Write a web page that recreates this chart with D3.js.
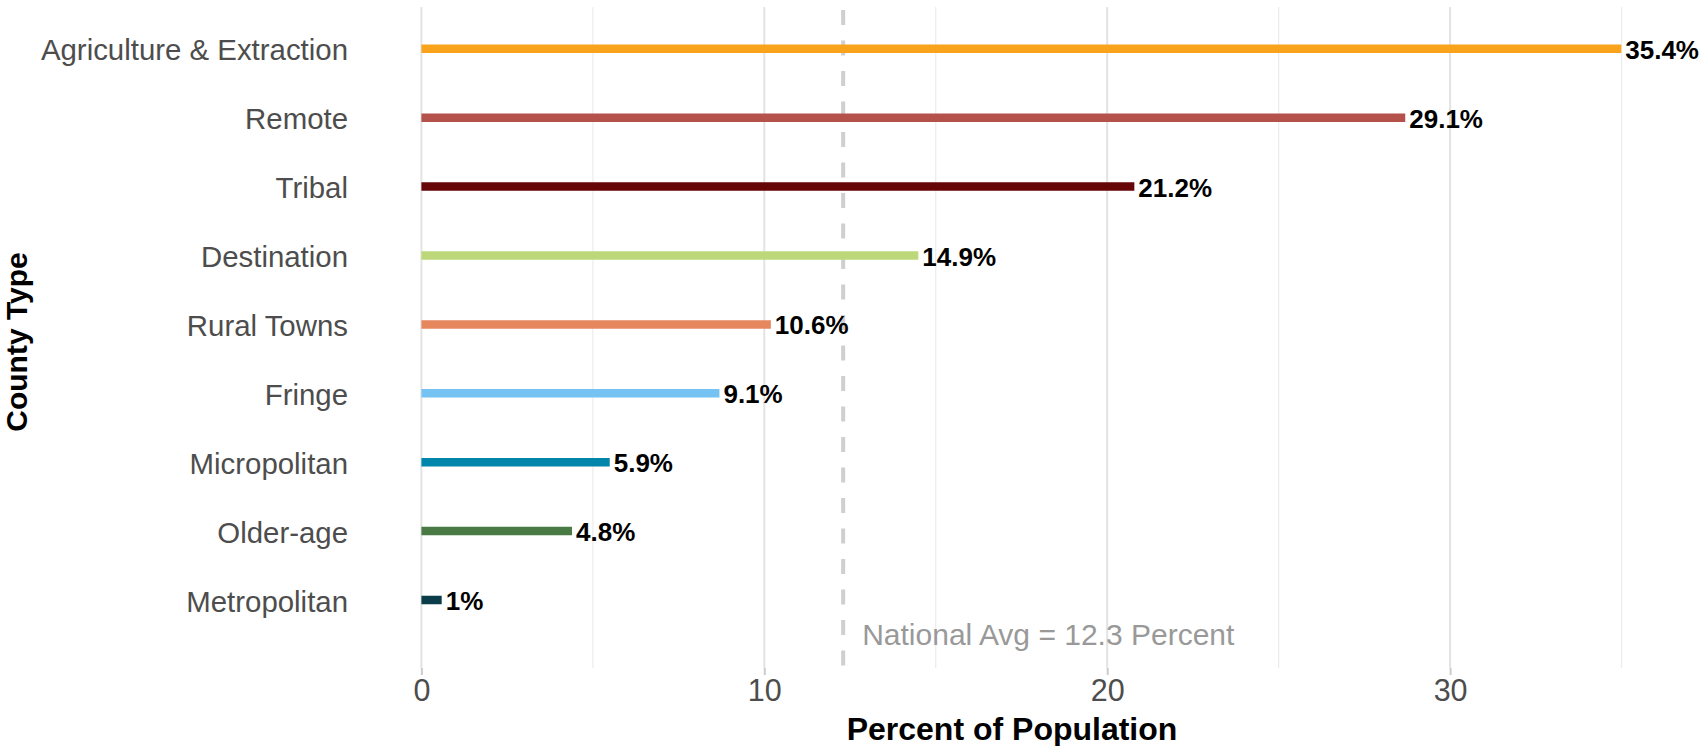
<!DOCTYPE html>
<html>
<head>
<meta charset="utf-8">
<script src="https://cdn.jsdelivr.net/npm/d3@7"></script>
<style>
  body { margin: 0; background: #fff; }
  svg { display: block; font-family: "Liberation Sans", Arial, sans-serif; }
</style>
</head>
<body>
<div id="canvas"></div>
<script>
"use strict";

/**** DATA ****/
let categories = ["Agriculture & Extraction", "Remote", "Tribal", "Destination", "Rural Towns",
                  "Fringe", "Micropolitan", "Older-age", "Metropolitan"];
let values = [35.4, 29.1, 21.2, 14.9, 10.6, 9.1, 5.9, 4.8, 1];
let barColors = ["#f9a21c", "#b4514a", "#660606", "#bdd87a", "#e6875e",
                 "#74c3f3", "#0086aa", "#4a7a44", "#0b3c4a"];
let majorTicks = [0, 10, 20, 30];
let minorTicks = [5, 15, 25, 35];
let nationalAvg = 12.3;

/**** CONFIGURATION ****/
let svgWidth = 1703;
let svgHeight = 746;
let panelTop = 7;
let panelBottom = 668;

let svg = d3.select("#canvas")
    .append("svg")
    .attr("width", svgWidth)
    .attr("height", svgHeight);

/**** SCALES ****/
let xScale = d3.scaleLinear()
    .domain([0, 30])
    .range([421.4, 1450.1]);

let yScale = d3.scalePoint()
    .domain(categories)
    .range([48.8, 600]);

/**** GRIDLINES ****/
svg.selectAll(".minor")
    .data(minorTicks)
    .join("line")
    .attr("class", "minor")
    .attr("x1", d => xScale(d))
    .attr("x2", d => xScale(d))
    .attr("y1", panelTop)
    .attr("y2", panelBottom)
    .attr("stroke", "#ececec")
    .attr("stroke-width", 1.2);

svg.selectAll(".major")
    .data(majorTicks)
    .join("line")
    .attr("class", "major")
    .attr("x1", d => xScale(d))
    .attr("x2", d => xScale(d))
    .attr("y1", panelTop)
    .attr("y2", panelBottom)
    .attr("stroke", "#e3e3e3")
    .attr("stroke-width", 2);

/**** NATIONAL AVERAGE LINE ****/
svg.append("line")
    .attr("x1", xScale(nationalAvg))
    .attr("x2", xScale(nationalAvg))
    .attr("y1", 10)
    .attr("y2", panelBottom)
    .attr("stroke", "#cfcfcf")
    .attr("stroke-width", 4)
    .attr("stroke-dasharray", "15,15.5");

svg.append("text")
    .attr("x", xScale(nationalAvg) + 19)
    .attr("y", 634)
    .attr("dominant-baseline", "central")
    .attr("fill", "#999999")
    .style("font-size", "30px")
    .text(`National Avg = ${nationalAvg} Percent`);

/**** BARS ****/
let rows = categories.map((c, i) => ({ name: c, value: values[i], color: barColors[i] }));

svg.selectAll(".bar")
    .data(rows)
    .join("line")
    .attr("class", "bar")
    .attr("x1", xScale(0))
    .attr("x2", d => xScale(d.value) - 14)
    .attr("y1", d => yScale(d.name))
    .attr("y2", d => yScale(d.name))
    .attr("stroke", d => d.color)
    .attr("stroke-width", 8.5);

/**** VALUE LABELS ****/
svg.selectAll(".value")
    .data(rows)
    .join("text")
    .attr("class", "value")
    .attr("x", d => xScale(d.value) - 10)
    .attr("y", d => yScale(d.name) + 1)
    .attr("dominant-baseline", "central")
    .style("font-size", "26px")
    .style("font-weight", "bold")
    .attr("fill", "#000")
    .text(d => `${d.value}%`);

/**** CATEGORY LABELS ****/
svg.selectAll(".cat")
    .data(categories)
    .join("text")
    .attr("class", "cat")
    .attr("x", 348)
    .attr("y", d => yScale(d) + 1)
    .attr("text-anchor", "end")
    .attr("dominant-baseline", "central")
    .attr("fill", "#4d4d4d")
    .style("font-size", "29.4px")
    .text(d => d);

/**** X AXIS ****/
let xAxis = svg.append("g")
    .attr("transform", `translate(0, ${panelBottom})`)
    .call(d3.axisBottom(xScale).tickValues(majorTicks).tickSize(7).tickPadding(4));

xAxis.select(".domain").remove();
xAxis.selectAll(".tick line").attr("stroke", "#cccccc").attr("stroke-width", 2);
xAxis.selectAll(".tick text")
    .attr("fill", "#4d4d4d")
    .style("font-size", "30.5px")
    .style("font-family", "'Liberation Sans', Arial, sans-serif");

/**** AXIS TITLES ****/
svg.append("text")
    .attr("x", 1012)
    .attr("y", 729)
    .attr("text-anchor", "middle")
    .attr("dominant-baseline", "central")
    .style("font-size", "32px")
    .style("font-weight", "bold")
    .text("Percent of Population");

svg.append("text")
    .attr("transform", "rotate(-90)")
    .attr("x", -342)
    .attr("y", 16)
    .attr("text-anchor", "middle")
    .attr("dominant-baseline", "central")
    .style("font-size", "30px")
    .style("font-weight", "bold")
    .text("County Type");
</script>
</body>
</html>
